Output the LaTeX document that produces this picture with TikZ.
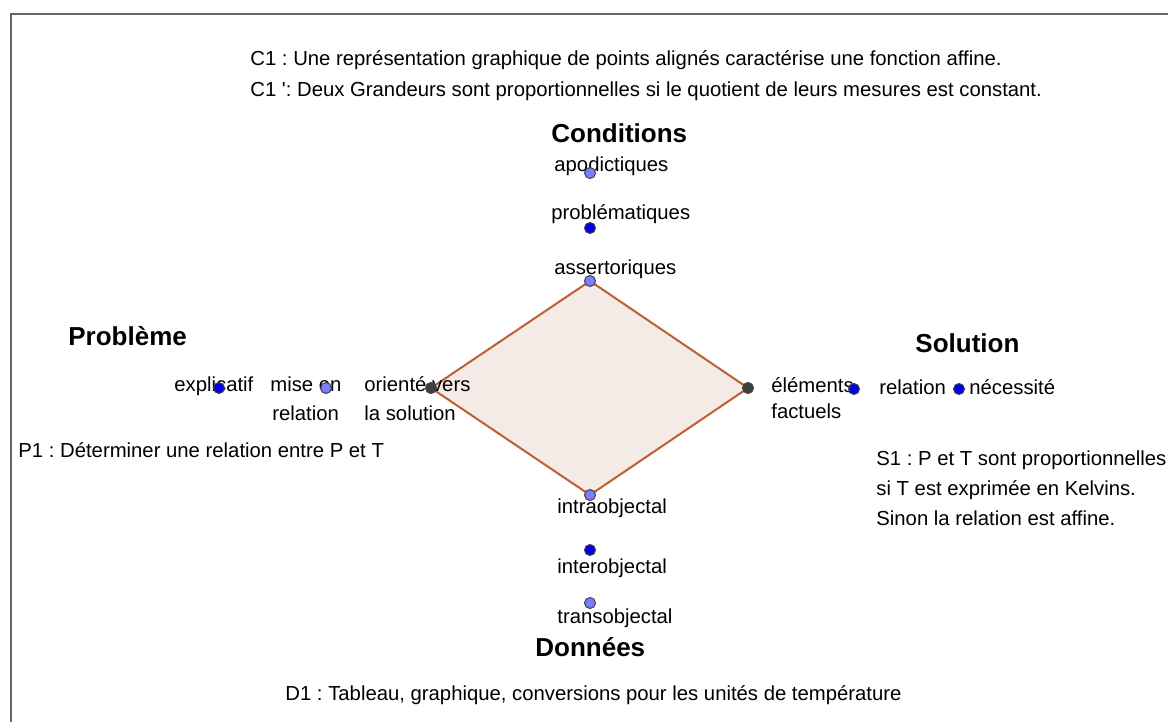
\documentclass[tikz,border=0pt]{standalone}
\usepackage{fontspec}
\setmainfont{Liberation Sans}
\usepackage{xcolor}
\usetikzlibrary{positioning}

\definecolor{ptlight}{RGB}{125,125,255}
\definecolor{ptdark}{RGB}{0,0,235}
\definecolor{ptgray}{RGB}{64,64,64}
\definecolor{polyedge}{RGB}{190,95,50}
\definecolor{polyfill}{RGB}{245,235,230}

\begin{document}
\frenchspacing
\begin{tikzpicture}[
        x=0.5pt, y=-0.5pt,
        txt/.style={anchor=base west, inner sep=0pt, font=\fontsize{10.15}{12}\selectfont},
        title/.style={anchor=base west, inner sep=0pt, font=\fontsize{13}{15}\selectfont\bfseries},
        pt/.style={circle, draw=black!75, line width=0.5pt, inner sep=0pt, minimum size=5.5pt},
        ptl/.style={pt, fill=ptlight},
        ptd/.style={pt, fill=ptdark},
        ptg/.style={pt, fill=ptgray},
        frame/.style={draw=black!60, line width=0.7pt}
    ]
        \useasboundingbox (0,0) rectangle (1168,722);
        \draw [frame] (11,722) -- (11,14) -- (1168,14);

        % the four corners of the rhombus
        \coordinate (cT) at (590,281);
        \coordinate (cL) at (431,388);
        \coordinate (cR) at (748,388);
        \coordinate (cB) at (590,495);
        \draw [polyedge, fill=polyfill, line width=1pt] (cT) -- (cR) -- (cB) -- (cL) -- cycle;

        \node (c1) [txt] at (250,66) {C1 : Une représentation graphique de points alignés caractérise une fonction affine.};
        \node (c1b) [txt] at (250,97) {C1 \textquotesingle: Deux Grandeurs sont proportionnelles si le quotient de leurs mesures est constant.};

        % Conditions
        \node (cond) [title] at (551,142) {Conditions};
        \node (apod) [txt] at (554,171) {apodictiques};
        \node (prob) [txt] at (551,220) {problématiques};
        \node (asse) [txt] at (554,274) {assertoriques};
        \node (pApod) [ptl] at (590,173) {};
        \node (pProb) [ptd] at (590,228) {};
        \node (pAsse) [ptl] at (cT) {};

        % Probleme
        \node (probl) [title] at (68,345) {Problème};
        \node (expl) [txt] at (174,391) {explicatif};
        \node (mise) [txt] at (270,391) {mise en};
        \node (mise2) [txt] at (272,420) {relation};
        \node (orie) [txt] at (364,391) {orienté vers};
        \node (orie2) [txt] at (364,420) {la solution};
        \node (pExpl) [ptd] at (219,388) {};
        \node (pMise) [ptl] at (326,388) {};
        \node (pOrie) [ptg] at (cL) {};
        \node (p1) [txt] at (18,457) {P1 : Déterminer une relation entre P et T};

        % Solution
        \node (sol) [title] at (915,352) {Solution};
        \node (elem) [txt] at (771,392) {éléments};
        \node (elem2) [txt] at (771,418) {factuels};
        \node (rel) [txt] at (879,394) {relation};
        \node (nece) [txt] at (969,394) {nécessité};
        \node (pFact) [ptg] at (cR) {};
        \node (pElem) [ptd] at (854,389) {};
        \node (pRel) [ptd] at (959,389) {};
        \node (s1) [txt] at (876,465) {S1 : P et T sont proportionnelles};
        \node (s1b) [txt] at (876,495) {si T est exprimée en Kelvins.};
        \node (s1c) [txt] at (876,525) {Sinon la relation est affine.};

        % Donnees
        \node (intra) [txt] at (557,513) {intraobjectal};
        \node (inter) [txt] at (557,573) {interobjectal};
        \node (trans) [txt] at (557,623) {transobjectal};
        \node (pIntra) [ptl] at (cB) {};
        \node (pInter) [ptd] at (590,550) {};
        \node (pTrans) [ptl] at (590,603) {};
        \node (donn) [title] at (535,656) {Données};
        \node (d1) [txt] at (285,700) {D1 : Tableau, graphique, conversions pour les unités de température};
    \end{tikzpicture}
\end{document}
